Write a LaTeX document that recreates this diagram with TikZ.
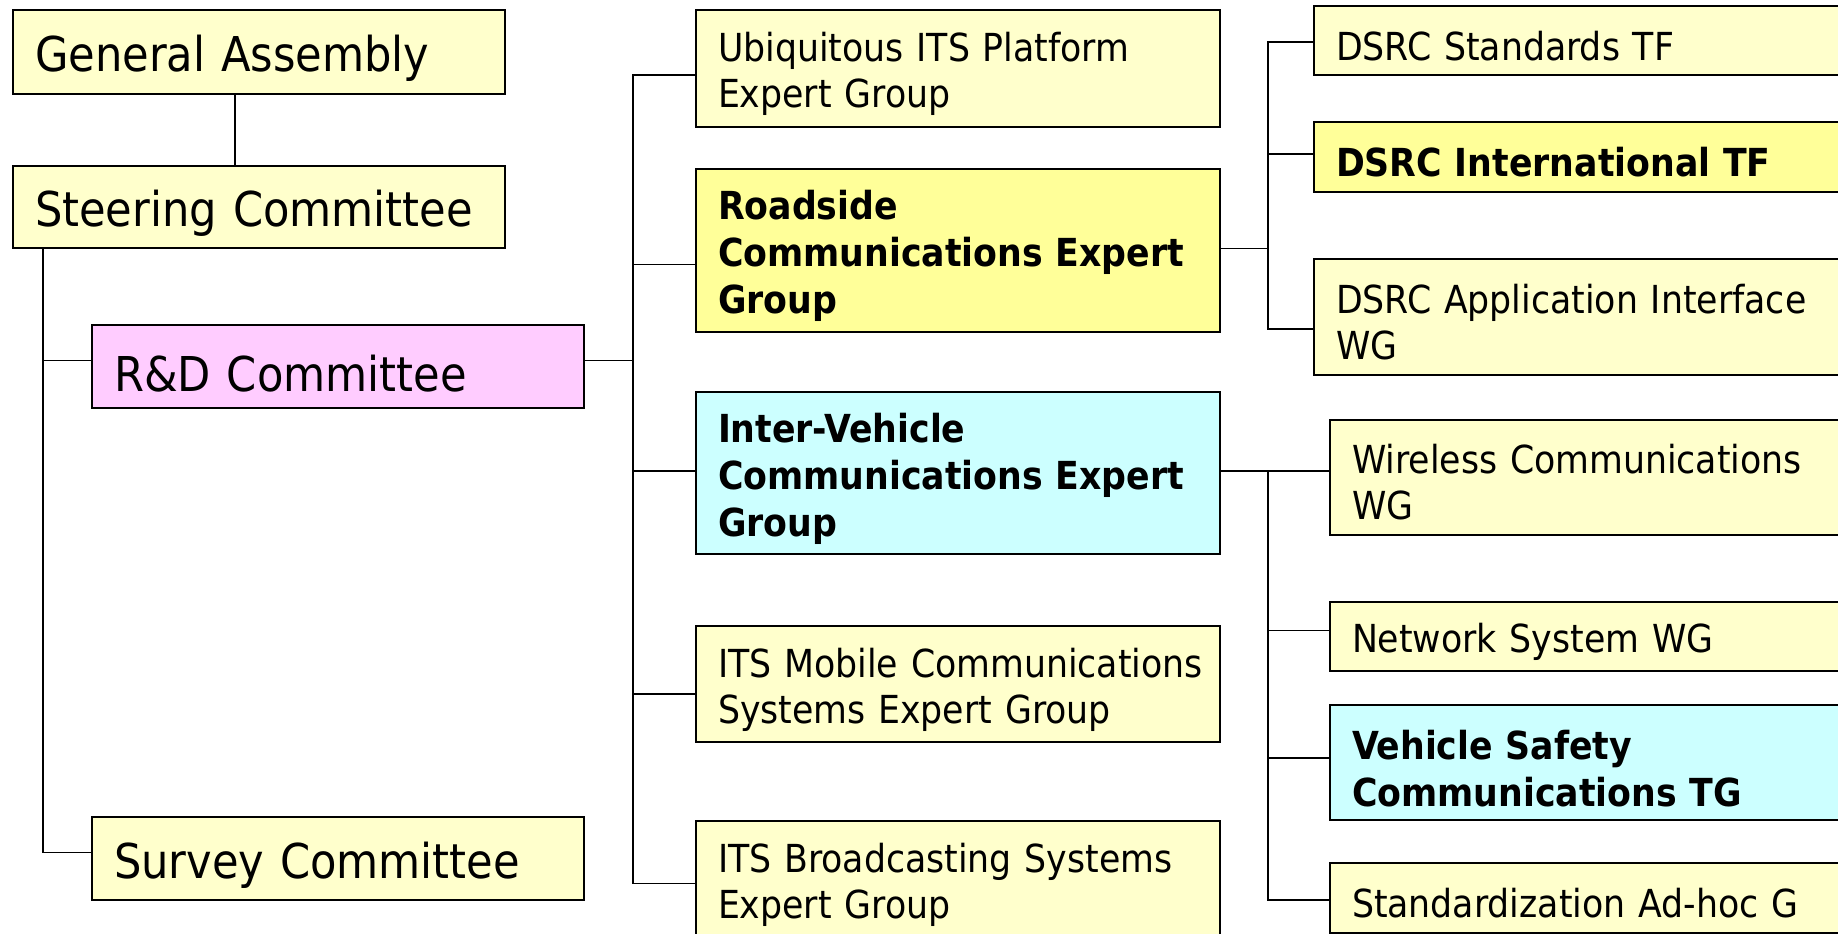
\documentclass[tikz,border=0pt]{standalone}
\usepackage{fontspec}
\setmainfont{DejaVu Sans Condensed}

\definecolor{paleyellow}{HTML}{FFFFCC}
\definecolor{brightyellow}{HTML}{FFFF99}
\definecolor{lightpink}{HTML}{FFCCFF}
\definecolor{lightcyan}{HTML}{CCFFFF}

\tikzset{
    unit/.style={draw=black, line width=1pt, fill=paleyellow, anchor=north west,
        inner xsep=11pt, inner ysep=0pt, align=left,
        execute at begin node={\rule{0pt}{1.04em}}},
    bigunit/.style={unit, text width=224pt, font=\fontsize{24}{29}\selectfont},
    midunit/.style={unit, text width=240pt, font=\fontsize{19.3}{23}\selectfont},
    subunit/.style={unit, text width=250pt, font=\fontsize{19.3}{23}\selectfont},
    strong/.style={font=\fontsize{19.3}{23.5}\selectfont\bfseries},
    link/.style={line width=0.8pt},
}

\begin{document}
\begin{tikzpicture}[x=0.5pt, y=-0.5pt]
    \useasboundingbox (0,0) rectangle (1838,933);
    \clip (0,0) rectangle (1838,933);

    \coordinate (spA) at (43,0);

    % committees
    \node[bigunit, minimum height=42pt] (ga) at (12,9) {General Assembly};
    \node[bigunit, minimum height=41pt] (sc) at (12,165) {Steering Committee};
    \node[bigunit, minimum height=41.5pt, fill=lightpink] (rd) at (91,324) {R\&D Committee};
    \node[bigunit, minimum height=41.5pt] (sv) at (91,816) {Survey Committee};

    % expert groups
    \node[midunit, minimum height=58.3pt] (ubi) at (695,9.4) {Ubiquitous ITS Platform\\Expert Group};
    \node[midunit, strong, minimum height=81.5pt, fill=brightyellow] (rse) at (695,168) {Roadside\\Communications Expert\\Group};
    \node[midunit, strong, minimum height=81pt, fill=lightcyan] (ive) at (695,391) {Inter-Vehicle\\Communications Expert\\Group};
    \node[midunit, minimum height=58pt] (mob) at (695,625) {\mbox{ITS Mobile Communications}\\Systems Expert Group};
    \node[midunit, minimum height=58.5pt] (bro) at (695,820) {ITS Broadcasting Systems\\Expert Group};

    % task forces and working groups
    \node[subunit, minimum height=34.5pt] (dss) at (1313,4.7) {DSRC Standards TF};
    \node[subunit, strong, minimum height=35pt, fill=brightyellow] (dsi) at (1313,120.7) {DSRC International TF};
    \node[subunit, minimum height=58pt] (dsa) at (1313,257.7) {DSRC Application Interface\\WG};
    \node[subunit, minimum height=57.5pt] (wcw) at (1329,418.5) {Wireless Communications\\WG};
    \node[subunit, minimum height=34.7pt] (nsw) at (1329,600.7) {Network System WG};
    \node[subunit, strong, minimum height=57.7pt, fill=lightcyan] (vsc) at (1329,704) {Vehicle Safety\\Communications TG};
    \node[subunit, minimum height=34.7pt] (sah) at (1329,862.3) {Standardization Ad-hoc G};

    % links
    \draw[link] ([xshift=-12pt]ga.south) -- ([xshift=-12pt]sc.north);
    \draw[link] (sc.south -| spA) |- ([yshift=3pt]rd.west);
    \draw[link] (sc.south -| spA) |- ([yshift=3pt]sv.west);

    \draw[link] ([yshift=3pt]rd.east) -- ++(48,0) coordinate (jB);
    \draw[link] (jB) |- ([yshift=-3pt]ubi.west);
    \draw[link] (jB) |- ([yshift=-7pt]rse.west);
    \draw[link] (jB) |- ([yshift=1pt]ive.west);
    \draw[link] (jB) |- ([yshift=-5pt]mob.west);
    \draw[link] (jB) |- ([yshift=-2pt]bro.west);

    \draw[link] ([yshift=1pt]rse.east) -- ++(47,0) coordinate (jC);
    \draw[link] (jC) |- ([yshift=-1pt]dss.west);
    \draw[link] (jC) |- ([yshift=1.5pt]dsi.west);
    \draw[link] (jC) |- ([yshift=-6pt]dsa.west);

    \draw[link] ([yshift=1pt]ive.east) -- ++(47,0) coordinate (jD);
    \draw[link] (jD) |- ([yshift=3pt]wcw.west);
    \draw[link] (jD) |- ([yshift=3pt]nsw.west);
    \draw[link] (jD) |- ([yshift=2.5pt]vsc.west);
    \draw[link] (jD) |- ([yshift=-1pt]sah.west);
\end{tikzpicture}
\end{document}
